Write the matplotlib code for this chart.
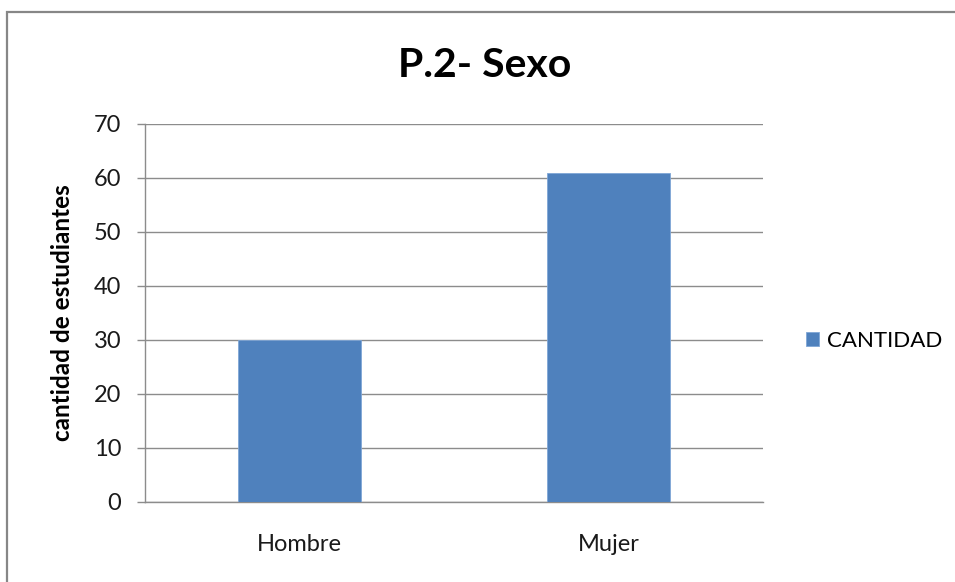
import matplotlib.pyplot as plt
from matplotlib.patches import Rectangle

categorias = ["Hombre", "Mujer"]
cantidad = [30, 61]
yticks = [0, 10, 20, 30, 40, 50, 60, 70]

plt.rcParams['font.family'] = ['Lato', 'DejaVu Sans']

fig = plt.figure(figsize=(9.55, 5.82), dpi=100)
ax = fig.add_axes([0.1518, 0.1375, 0.6471, 0.6495])

# borde del grafico (solo se ve arriba e izquierda)
fig.patches.append(Rectangle((7 / 955, -0.1), 1.2, (582 - 12) / 582 + 0.1,
                             transform=fig.transFigure, fill=False,
                             edgecolor='#878787', linewidth=1.6))

x = range(len(categorias))
ax.bar(x, cantidad, width=0.4, color='#4F81BD', edgecolor='#7FA6D6',
       linewidth=0.6, label='CANTIDAD', zorder=3)

ax.set_xlim(-0.5, 1.5)
ax.set_ylim(0, 70)
ax.set_yticks(yticks)
ax.set_xticks(list(x))
ax.set_xticklabels(categorias)

ax.grid(axis='y', color='#8C8C8C', linewidth=1.0, zorder=0)
for s in ['top', 'right']:
    ax.spines[s].set_visible(False)
ax.spines['left'].set_color('#8C8C8C')
ax.spines['bottom'].set_color('#8C8C8C')
ax.spines['left'].set_linewidth(1.0)
ax.spines['bottom'].set_linewidth(1.0)

ax.tick_params(axis='y', length=6, width=1.0, color='#8C8C8C', pad=11,
               labelsize=17, labelcolor='#1a1a1a')
ax.tick_params(axis='x', length=0, pad=23, labelsize=17, labelcolor='#1a1a1a')

ax.set_ylabel('cantidad de estudiantes', fontsize=17.5, fontweight='bold',
              labelpad=14)
fig.text(0.508, 0.888, 'P.2- Sexo', fontsize=29.5, fontweight='bold',
         ha='center', va='center')

leg = ax.legend(loc='center left', bbox_to_anchor=(1.037, 0.426), frameon=False,
                fontsize=16, handlelength=0.6, handleheight=0.6,
                handletextpad=0.35)

fig.savefig('out.png', dpi=100)
